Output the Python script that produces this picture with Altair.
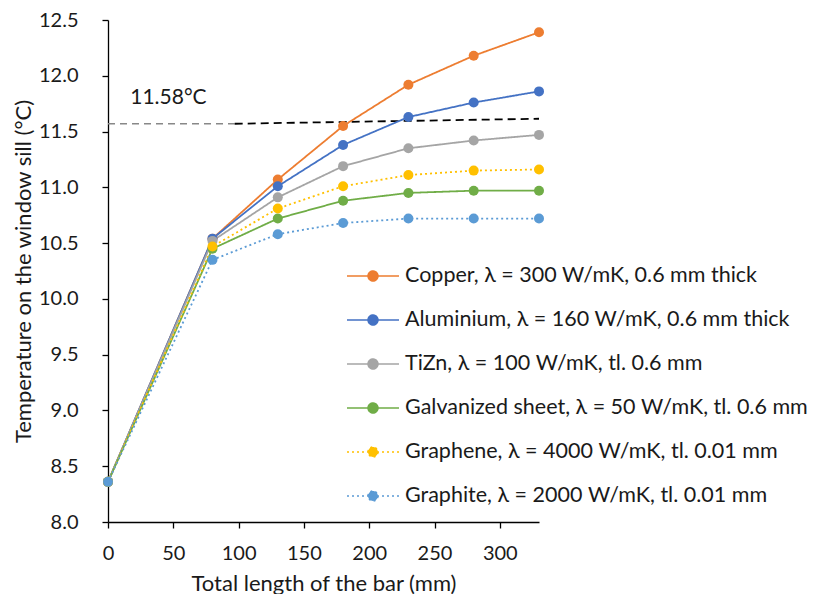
import altair as alt
import pandas as pd

lengths = [0, 80, 130, 180, 230, 280, 330]
series = [
    "Copper, λ = 300 W/mK, 0.6 mm thick",
    "Aluminium, λ = 160 W/mK, 0.6 mm thick",
    "TiZn, λ = 100 W/mK, tl. 0.6 mm",
    "Galvanized sheet, λ = 50 W/mK, tl. 0.6 mm",
    "Graphene, λ = 4000 W/mK, tl. 0.01 mm",
    "Graphite, λ = 2000 W/mK, tl. 0.01 mm",
]
copper = [8.36, 10.54, 11.07, 11.55, 11.92, 12.18, 12.39]
aluminium = [8.36, 10.54, 11.01, 11.38, 11.63, 11.76, 11.86]
tizn = [8.36, 10.52, 10.91, 11.19, 11.35, 11.42, 11.47]
galvanized = [8.36, 10.45, 10.72, 10.88, 10.95, 10.97, 10.97]
graphene = [8.36, 10.47, 10.81, 11.01, 11.11, 11.15, 11.16]
graphite = [8.36, 10.35, 10.58, 10.68, 10.72, 10.72, 10.72]
values = [copper, aluminium, tizn, galvanized, graphene, graphite]

colors = ["#ED7D31", "#4472C4", "#A5A5A5", "#70AD47", "#FFC000", "#5B9BD5"]
dashes = [[1, 0], [1, 0], [1, 0], [1, 0], [2, 3], [2, 3]]

ref_label = "11.58°C"
ref_x_gray = [0, 97]
ref_y_gray = [11.57, 11.57]
ref_x_black = [97, 330]
ref_y_black = [11.57, 11.615]

rows = []
for i, (name, vals) in enumerate(zip(series, values)):
    for x, y in zip(lengths, vals):
        rows.append({"series": name, "idx": i, "length": x, "temp": y})
df = pd.DataFrame(rows)

FONT = "Lato"
TXT = "#1a1a1a"
sym_path = "M-1,0L1,0M0.19,0A0.19,0.19,0,1,1,-0.19,0A0.19,0.19,0,1,1,0.19,0Z"
leg = alt.Legend(
    title=None,
    orient="none",
    legendX=238,
    legendY=229,
    symbolType=sym_path,
    symbolSize=2704,
    symbolStrokeWidth=1.6,
    labelFont=FONT,
    labelFontSize=21.5,
    labelColor=TXT,
    labelOffset=5,
    rowPadding=6,
    labelLimit=600,
)

xs = alt.X("length:Q", scale=alt.Scale(domain=[0, 330], nice=False, zero=False),
           axis=alt.Axis(values=[0, 50, 100, 150, 200, 250, 300], labelFlush=False,
                         title="Total length of the bar (mm)"))
ys = alt.Y("temp:Q", scale=alt.Scale(domain=[8.0, 12.5], nice=False, zero=False),
           axis=alt.Axis(values=[8.0, 8.5, 9.0, 9.5, 10.0, 10.5, 11.0, 11.5, 12.0, 12.5],
                         format=".1f", labelFlush=False,
                         title="Temperature on the window sill (°C)"))

lines = alt.Chart(df).mark_line(strokeWidth=1.8).encode(
    x=xs, y=ys,
    stroke=alt.Stroke("series:N", scale=alt.Scale(domain=series, range=colors), legend=leg),
    strokeDash=alt.StrokeDash("series:N", scale=alt.Scale(domain=series, range=dashes), legend=leg),
    detail="series:N",
)
points = alt.Chart(df).mark_point(filled=True, size=100, opacity=1).encode(
    x=xs, y=ys,
    fill=alt.Fill("series:N", scale=alt.Scale(domain=series, range=colors), legend=leg),
    order=alt.Order("idx:Q"),
)

gray_df = pd.DataFrame({"length": ref_x_gray, "temp": ref_y_gray})
black_df = pd.DataFrame({"length": ref_x_black, "temp": ref_y_black})
ref_gray = alt.Chart(gray_df).mark_line(color="#888888", strokeDash=[7, 5], strokeWidth=1.3).encode(
    x=xs, y=ys)
ref_black = alt.Chart(black_df).mark_line(color="#000000", strokeDash=[8, 5], strokeWidth=1.8).encode(
    x=xs, y=ys)
lab = alt.Chart(pd.DataFrame({"length": [17], "temp": [11.8], "t": [ref_label]})).mark_text(
    align="left", baseline="middle", font=FONT, fontSize=21, color=TXT).encode(
    x=xs, y=ys, text="t:N")

chart = alt.layer(ref_gray, ref_black, lab, lines, points).properties(
    width=431, height=502,
    padding={"left": 4, "top": 2, "right": 0, "bottom": 0},
).configure_view(stroke=None).configure_axis(
    labelFont=FONT, labelFontSize=20, labelColor=TXT,
    titleFont=FONT, titleFontSize=22, titleColor=TXT, titleFontWeight="normal",
    domainColor="#000000", domainWidth=1.3, tickColor="#000000", tickSize=6, tickWidth=1.3,
    grid=False,
).configure_axisX(labelPadding=15, titlePadding=10).configure_axisY(labelPadding=24, titlePadding=3)

chart.save("out.html", embed_options={"renderer": "svg", "actions": False})
